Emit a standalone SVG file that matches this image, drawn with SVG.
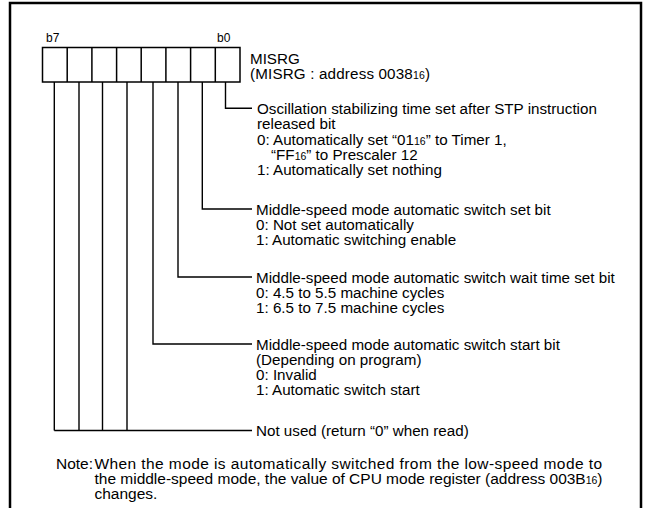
<svg xmlns="http://www.w3.org/2000/svg" width="645" height="508" viewBox="0 0 645 508">
<style>
text{font-family:"Liberation Sans",Arial,Helvetica,sans-serif;font-size:15.2px;fill:#000}
.sm{font-size:12px}
.sub{font-size:10.5px}
.nt{font-size:15.5px}
.ln{fill:none;stroke:#000;stroke-width:1.4}
.box{fill:#fff;stroke:#000;stroke-width:1.5}
</style>
<rect x="0" y="0" width="645" height="508" fill="#fff"/>
<rect x="10" y="3" width="631" height="530" fill="none" stroke="#000" stroke-width="2.5"/>
<g id="register">
<text class="sm" x="46" y="41.5">b7</text>
<text class="sm" x="217" y="41.5">b0</text>
<rect class="box" x="42.5" y="47.5" width="197.5" height="34.5"/>
<path class="ln" d="M67.2 47.5V82M91.9 47.5V82M116.6 47.5V82M141.2 47.5V82M165.9 47.5V82M190.6 47.5V82M215.3 47.5V82" style="stroke-width:1.5"/>
<text x="250" y="64">MISRG</text>
<text x="250" y="79" textLength="180" lengthAdjust="spacing">(MISRG : address 0038<tspan class="sub">16</tspan>)</text>
</g>
<g id="connectors">
<path class="ln" d="M225.5 82V108.3H252"/>
<path class="ln" d="M202.3 82V209H252"/>
<path class="ln" d="M178 82V277H252"/>
<path class="ln" d="M153 82V344H252"/>
<path class="ln" d="M127 82V430.5M102.5 82V430.5M79 82V430.5M54.3 82V430.5M54.3 430.5H252"/>
</g>
<g id="bit0">
<text x="257" y="114">Oscillation stabilizing time set after STP instruction</text>
<text x="257" y="129">released bit</text>
<text x="257" y="144.5">0: Automatically set “01<tspan class="sub">16</tspan>” to Timer 1,</text>
<text x="271" y="160">“FF<tspan class="sub">16</tspan>” to Prescaler 12</text>
<text x="257" y="175">1: Automatically set nothing</text>
</g>
<g id="bit1">
<text x="256" y="215">Middle-speed mode automatic switch set bit</text>
<text x="256" y="230">0: Not set automatically</text>
<text x="256" y="245">1: Automatic switching enable</text>
</g>
<g id="bit2">
<text x="256" y="283">Middle-speed mode automatic switch wait time set bit</text>
<text x="256" y="298">0: 4.5 to 5.5 machine cycles</text>
<text x="256" y="313">1: 6.5 to 7.5 machine cycles</text>
</g>
<g id="bit3">
<text x="256" y="350">Middle-speed mode automatic switch start bit</text>
<text x="256" y="365">(Depending on program)</text>
<text x="256" y="380">0: Invalid</text>
<text x="256" y="395">1: Automatic switch start</text>
</g>
<g id="bits4to7">
<text x="256" y="436">Not used (return “0” when read)</text>
</g>
<g id="note">
<text class="nt" x="56" y="468.5">Note:</text>
<text class="nt" x="94.5" y="468.5" textLength="507.5" lengthAdjust="spacing">When the mode is automatically switched from the low-speed mode to</text>
<text class="nt" x="94.5" y="483.5" textLength="508" lengthAdjust="spacing">the middle-speed mode, the value of CPU mode register (address 003B<tspan class="sub">16</tspan>)</text>
<text class="nt" x="94.5" y="498.5">changes.</text>
</g>
</svg>
